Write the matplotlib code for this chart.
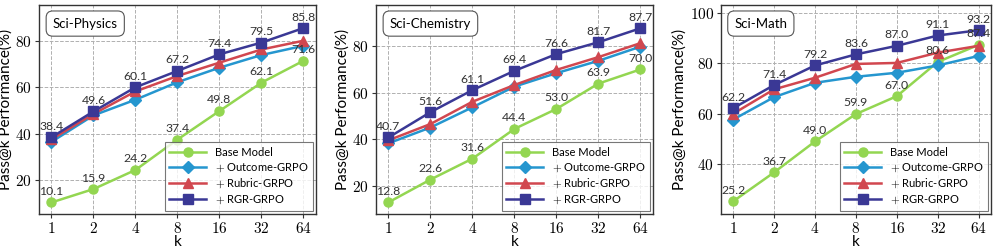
import matplotlib.pyplot as plt

plt.rcParams['mathtext.fontset'] = 'cm'
plt.rcParams['font.family'] = ['Lato', 'DejaVu Sans']

ks = ['1', '2', '4', '8', '16', '32', '64']
series_names = ['Base Model', '$+$ Outcome-GRPO', '$+$ Rubric-GRPO', '$+$ RGR-GRPO']

physics_base = [10.1, 15.9, 24.2, 37.4, 49.8, 62.1, 71.6]
physics_outcome = [36.4, 47.9, 54.7, 62.3, 68.6, 74.1, 78.1]
physics_rubric = [37.5, 48.5, 58.3, 65.0, 70.8, 76.5, 80.3]
physics_rgr = [38.4, 49.6, 60.1, 67.2, 74.4, 79.5, 85.8]

chem_base = [12.8, 22.6, 31.6, 44.4, 53.0, 63.9, 70.0]
chem_outcome = [38.2, 45.0, 53.7, 62.6, 68.4, 73.7, 79.8]
chem_rubric = [39.5, 46.5, 56.1, 63.3, 69.8, 75.3, 81.3]
chem_rgr = [40.7, 51.6, 61.1, 69.4, 76.6, 81.7, 87.7]

math_base = [25.2, 36.7, 49.0, 59.9, 67.0, 80.6, 87.4]
math_outcome = [57.7, 66.6, 72.3, 74.7, 76.3, 79.2, 83.0]
math_rubric = [60.0, 69.7, 74.3, 79.8, 80.2, 84.3, 87.0]
math_rgr = [62.2, 71.4, 79.2, 83.6, 87.0, 91.1, 93.2]

panels = [
    ('Sci-Physics', [physics_base, physics_outcome, physics_rubric, physics_rgr], [20, 40, 60, 80]),
    ('Sci-Chemistry', [chem_base, chem_outcome, chem_rubric, chem_rgr], [20, 40, 60, 80]),
    ('Sci-Math', [math_base, math_outcome, math_rubric, math_rgr], [40, 60, 80, 100]),
]

colors = ['#93d651', '#2596cf', '#d1474f', '#3a3895']
markers = ['o', 'D', '^', 's']

fig = plt.figure(figsize=(9.97, 2.52), dpi=100)
lefts = [0.039, 0.377, 0.723]
rights = [0.317, 0.655, 0.994]

x = list(range(len(ks)))
for i, (title, data, yt) in enumerate(panels):
    ax = fig.add_axes([lefts[i], 0.151, rights[i] - lefts[i], 0.829])
    for vals, name, c, m in zip(data, series_names, colors, markers):
        ax.plot(x, vals, color=c, marker=m, markersize=6.5, linewidth=1.8, label=name, zorder=3)
    # value labels on base model and RGR-GRPO
    for vals in (data[0], data[3]):
        for xi, v in zip(x, vals):
            ax.annotate(f'{v:.1f}', (xi, v), xytext=(0, 4), textcoords='offset points',
                        ha='center', va='bottom', fontsize=8.8, color='#333333', zorder=4)
    lo = min(min(d) for d in data)
    hi = max(max(d) for d in data)
    ax.set_ylim(lo - 5, hi + 10)
    ax.set_xticks(x)
    ax.set_xticklabels([f'${k}$' for k in ks], fontsize=11)
    ax.set_yticks(yt)
    ax.set_yticklabels([f'${t}$' for t in yt], fontsize=11)
    ax.grid(True, linestyle='--', color='#b0b0b0', linewidth=0.7)
    ax.set_axisbelow(True)
    for s in ax.spines.values():
        s.set_color('#333333')
        s.set_linewidth(1.0)
    ax.tick_params(length=3, color='#333333', pad=2)
    ax.set_xlabel('k', fontsize=11, labelpad=-1)
    ax.set_ylabel('Pass@k Performance(%)', fontsize=11, labelpad=2)
    ax.text(0.05, 0.94, title, transform=ax.transAxes, fontsize=9.5, va='top', ha='left',
            bbox=dict(boxstyle='round,pad=0.5', facecolor='white', edgecolor='#555555', linewidth=0.8),
            zorder=5)
    leg = ax.legend(loc='lower right', fontsize=8, frameon=True, fancybox=False,
                    borderaxespad=0.3, handlelength=3.3, labelspacing=0.3)
    leg.get_frame().set_edgecolor('#555555')
    leg.get_frame().set_linewidth(0.8)

fig.savefig('out.png', dpi=100)
